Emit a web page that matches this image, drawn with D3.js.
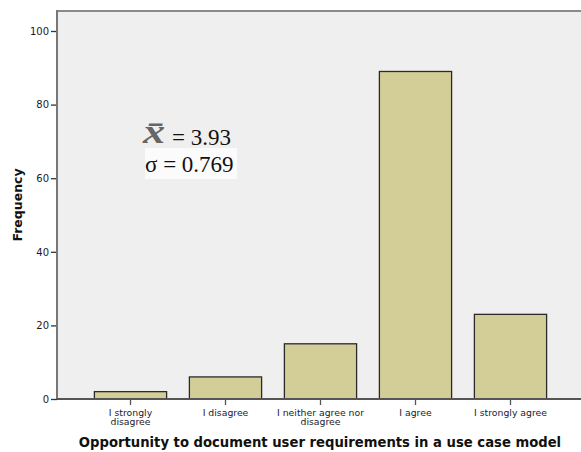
<!DOCTYPE html>
<html><head><meta charset="utf-8">
<script src="https://cdn.jsdelivr.net/npm/d3@7"></script>
<style>body{margin:0;background:#fff}svg{display:block}</style>
</head><body>
<svg id="c" width="581" height="452"></svg>
<script>
const categories = [["I strongly","disagree"],["I disagree"],["I neither agree nor","disagree"],["I agree"],["I strongly agree"]];
const values = [2, 6, 15, 89, 23];
const yTicks = [0, 20, 40, 60, 80, 100];
const xTitle = "Opportunity to document user requirements in a use case model";
const yTitle = "Frequency";
const meanSymbol = "x\u0304";
const meanLabel = "= 3.93";
const sdLabel = "σ = 0.769";

const svg = d3.select("#c");
const pL = 57, pR = 581, pT = 11, pB = 399;
const keys = categories.map((d,i)=>i);
const x = d3.scaleBand().domain(keys).range([83, 558]).paddingInner(0.24).paddingOuter(0.12);
const y = d3.scaleLinear().domain([0, 100]).range([pB, 31]);

svg.append("rect").attr("x", pL).attr("y", pT).attr("width", pR-pL).attr("height", pB-pT).attr("fill", "#efefef");
svg.append("line").attr("x1", pL).attr("x2", pR).attr("y1", pT).attr("y2", pT).attr("stroke", "#8a8a8a").attr("stroke-width", 2);

svg.selectAll("rect.bar").data(values).join("rect").attr("class","bar")
  .attr("x", (d,i)=>x(i)).attr("width", x.bandwidth())
  .attr("y", d=>y(d)).attr("height", d=>y(0)-y(d))
  .attr("fill", "#d3ce97").attr("stroke", "#2a2a2a").attr("stroke-width", 1.3);

// y axis
const ya = svg.append("g").attr("transform", `translate(${pL},0)`)
  .call(d3.axisLeft(y).tickValues(yTicks).tickSize(6).tickPadding(2));
ya.select(".domain").remove();
ya.selectAll(".tick line").attr("stroke", "#333").attr("stroke-width", 1.3);
ya.selectAll(".tick text").attr("font-family", "DejaVu Sans, sans-serif").attr("font-size", "10px").attr("fill", "#1a1a2e");
svg.append("line").attr("x1", pL).attr("x2", pL).attr("y1", pT-1).attr("y2", pB).attr("stroke", "#777").attr("stroke-width", 2);

// x axis
const xa = svg.append("g").attr("transform", `translate(0,${pB})`)
  .call(d3.axisBottom(x).tickSize(6).tickFormat(()=>""));
xa.select(".domain").remove();
xa.selectAll(".tick line").attr("stroke", "#555").attr("stroke-width", 1.3);
xa.selectAll(".tick").each(function(d){
  const t = d3.select(this).append("text").attr("fill", "#1a1a2e")
    .attr("font-family", "DejaVu Sans, sans-serif").attr("font-size", "9.3px").attr("text-anchor", "middle");
  categories[d].forEach((line, j)=>{
    t.append("tspan").attr("x", 0).attr("y", 16.5 + j*9.6).text(line);
  });
});
svg.append("line").attr("x1", pL).attr("x2", pR).attr("y1", pB).attr("y2", pB).attr("stroke", "#555").attr("stroke-width", 2);

// titles
svg.append("text").attr("x", 320).attr("y", 447).attr("text-anchor", "middle")
  .attr("font-family", "DejaVu Sans, sans-serif").attr("font-weight", "bold").attr("font-size", "13.2px").attr("fill", "#111").text(xTitle);
svg.append("text").attr("transform", "translate(22,205) rotate(-90)").attr("text-anchor", "middle")
  .attr("font-family", "DejaVu Sans, sans-serif").attr("font-weight", "bold").attr("font-size", "12.5px").attr("fill", "#111").text(yTitle);

// annotation
svg.append("rect").attr("x", 145).attr("y", 148).attr("width", 92).attr("height", 31).attr("fill", "#fbfbfb");
svg.append("text").attr("transform", "translate(143,143) scale(1.3,1)")
  .attr("font-family", "Liberation Serif, serif").attr("font-style", "italic").attr("font-weight", "bold")
  .attr("font-size", "34px").attr("fill", "#666").text(meanSymbol);
svg.append("text").attr("x", 172).attr("y", 145).attr("font-family", "Liberation Serif, serif").attr("font-size", "23px").attr("fill", "#111").text(meanLabel);
svg.append("text").attr("x", 145).attr("y", 172).attr("font-family", "Liberation Serif, serif").attr("font-size", "23px").attr("fill", "#111").text(sdLabel);
</script>
</body></html>
